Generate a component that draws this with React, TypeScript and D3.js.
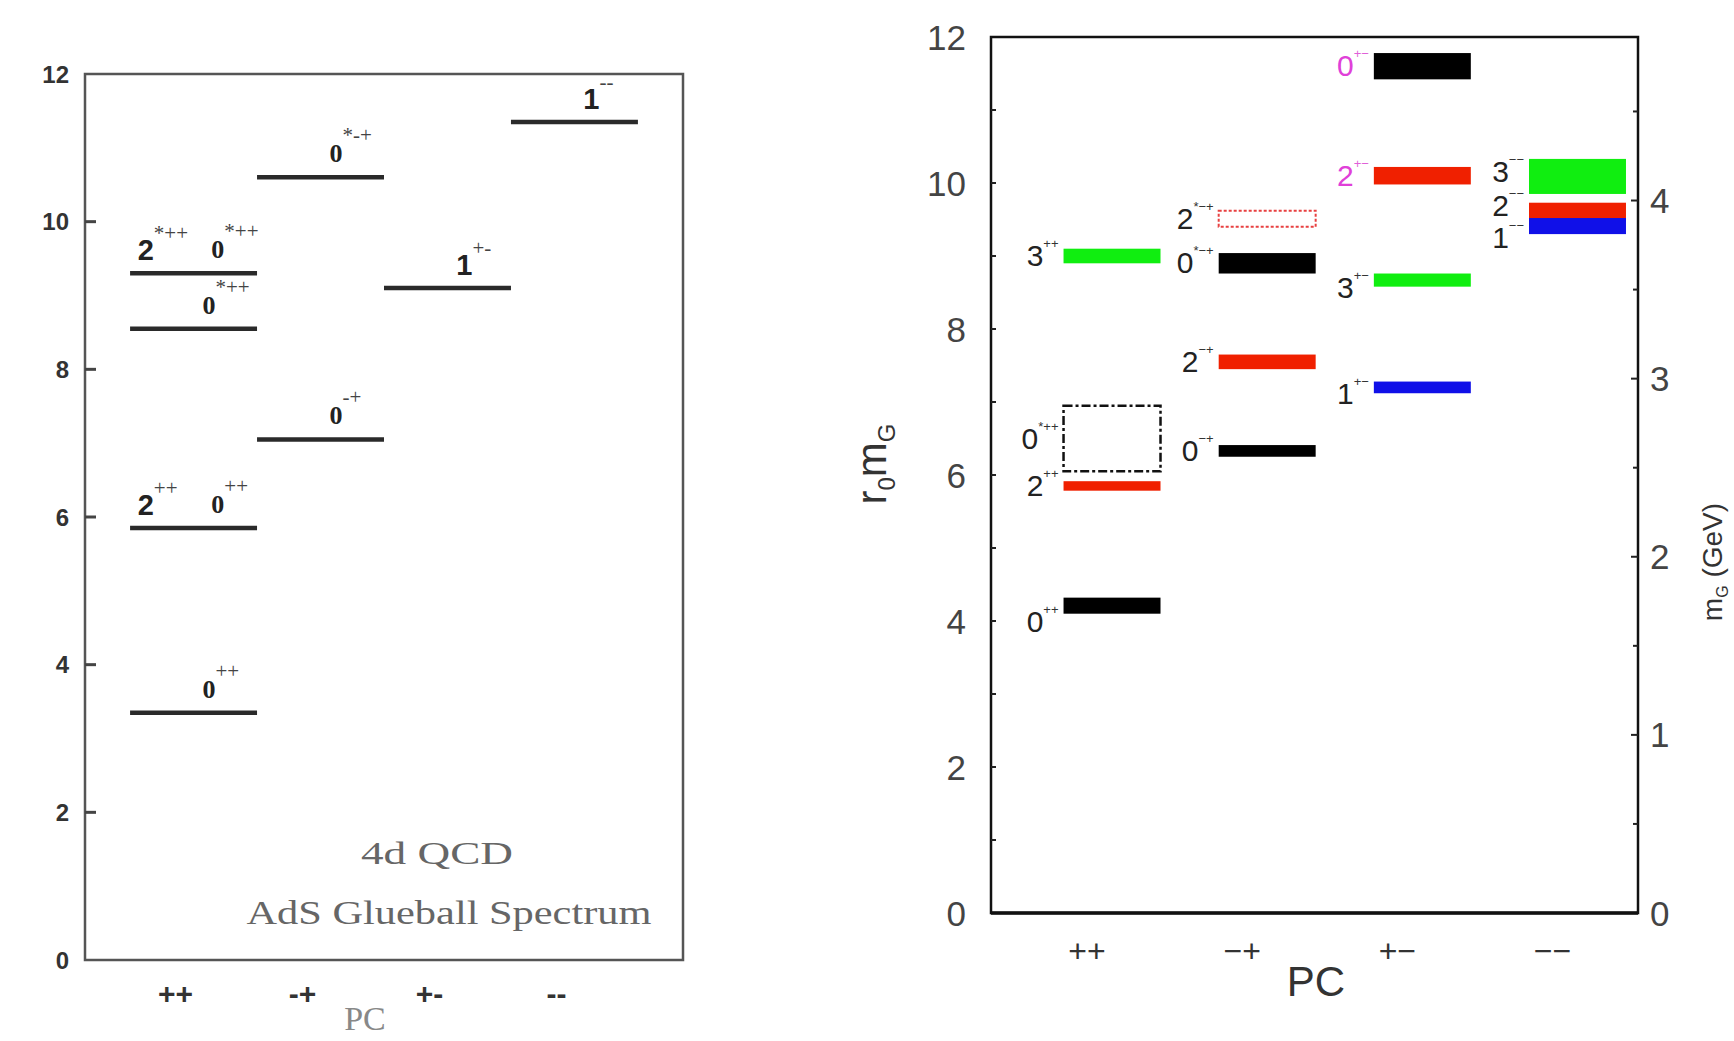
import React from "react";
import * as d3 from "d3";

// PC channels, shared by both panels
const pcCategories = ["++", "-+", "+-", "--"];
const leftPcLabels = ["++", "-+", "+-", "--"];
const rightPcLabels = ["++", "\u2212+", "+\u2212", "\u2212\u2212"];

// left panel: AdS glueball spectrum (one line per level, labels above it)
const adsLevelPC = ["++", "++", "++", "++", "-+", "-+", "+-", "--"];
const adsLevelMass = [3.35, 5.85, 8.55, 9.3, 7.05, 10.6, 9.1, 11.35];
const adsLevelStates = [
  ["0++"],
  ["2++", "0++"],
  ["0*++"],
  ["2*++", "0*++"],
  ["0-+"],
  ["0*-+"],
  ["1+-"],
  ["1--"],
];
const leftYTicks = [0, 2, 4, 6, 8, 10, 12];

// right panel: lattice glueball spectrum, r0 mG with error
const latticeState = ["0++", "2++", "0*++", "3++", "0-+", "2-+", "0*-+", "2*-+", "1+-", "3+-", "2+-", "0+-", "3--", "2--", "1--"];
const latticeMass = [4.21, 5.85, 6.5, 9.0, 6.33, 7.55, 8.9, 9.51, 7.2, 8.67, 10.1, 11.6, 10.09, 9.6, 9.41];
const latticeErr = [0.11, 0.065, 0.45, 0.1, 0.08, 0.1, 0.14, 0.11, 0.08, 0.09, 0.12, 0.18, 0.24, 0.13, 0.11];
const latticeTentative = ["0*++", "2*-+"];
const exoticStates = ["0+-", "2+-"];
const rightYTicks = [0, 2, 4, 6, 8, 10, 12];
const gevTicks = [0, 1, 2, 3, 4];
const r0mPerGeV = 2.44;

const W = 1734;
const H = 1041;

const jColor: Record<string, string> = { "0": "#000000", "1": "#1010e8", "2": "#f02000", "3": "#10ee10" };

// little vertical nudges of some right-panel labels (px)
const labelNudge: Record<string, number> = { "0++": 16, "3+-": 8, "1+-": 7, "3--": -4, "2--": -6, "1--": 12 };

const split = (s: string) => ({ j: s[0], sup: s.slice(1), pc: s.slice(-2) });
const minus = (s: string) => s.replace(/-/g, "\u2212");

const LeftPanel = () => {
  const left = 85, right = 683, top = 74, bottom = 960;
  const y = d3.scaleLinear().domain([0, 12]).range([bottom, top]);
  const x = d3.scaleBand().domain(pcCategories).range([left, right]).paddingInner(0).paddingOuter(0.355);
  const bw = x.bandwidth();
  const serif = "'Liberation Serif', 'Times New Roman', serif";
  const sans = "'Liberation Sans', Arial, sans-serif";

  return (
    <g>
      <rect x={left} y={top} width={right - left} height={bottom - top} fill="none" stroke="#555" strokeWidth={2.5} />
      {leftYTicks.map((t) => (
        <g key={t}>
          {t > 0 && t < 12 && <line x1={left} x2={left + 11} y1={y(t)} y2={y(t)} stroke="#444" strokeWidth={3} />}
          <text x={69} y={y(t)} dy="0.36em" textAnchor="end" fontFamily={sans} fontWeight="bold" fontSize={24} fill="#333">
            {t}
          </text>
        </g>
      ))}
      {adsLevelMass.map((m, i) => {
        const x0 = x(adsLevelPC[i])!;
        const states = adsLevelStates[i];
        const pos = states.length === 2 ? [0.06, 0.64] : [0.57];
        return (
          <g key={i}>
            <line x1={x0} x2={x0 + bw} y1={y(m)} y2={y(m)} stroke="#2a2a2a" strokeWidth={4.5} />
            {states.map((s, k) => {
              const { j, sup } = split(s);
              const isZero = j === "0";
              return (
                <text
                  key={k}
                  x={x0 + pos[k] * bw}
                  y={y(m) - (isZero ? 15 : 13)}
                  fontFamily={isZero ? serif : sans}
                  fontWeight="bold"
                  fontSize={isZero ? 26 : 29}
                  fill="#222"
                >
                  {j}
                  <tspan dy={-20} fontFamily={serif} fontWeight="normal" fontSize={21} fill="#444">
                    {sup}
                  </tspan>
                </text>
              );
            })}
          </g>
        );
      })}
      {pcCategories.map((c, i) => (
        <text key={c} x={x(c)! + bw / 2 - 18} y={1004} textAnchor="middle" fontFamily={sans} fontWeight="bold" fontSize={30} fill="#333">
          {leftPcLabels[i]}
        </text>
      ))}
      <text x={365} y={1030} textAnchor="middle" fontFamily={serif} fontSize={34} fill="#888">
        PC
      </text>
      <text x={437} y={864} textAnchor="middle" fontFamily={serif} fontSize={32} fill="#666" textLength={152} lengthAdjust="spacingAndGlyphs">
        4d  QCD
      </text>
      <text x={449} y={924} textAnchor="middle" fontFamily={serif} fontSize={33} fill="#666" textLength={405} lengthAdjust="spacingAndGlyphs">
        AdS Glueball Spectrum
      </text>
    </g>
  );
};

const RightPanel = () => {
  const left = 991, right = 1638, top = 37, bottom = 913;
  const y = d3.scaleLinear().domain([0, 12]).range([bottom, top]);
  const yGeV = d3.scaleLinear().domain([0, 12 / r0mPerGeV]).range([bottom, top]);
  // column centres sit at i + 0.78 on a linear PC axis
  const x = d3.scaleLinear().domain([0, 4.17]).range([left, right]);
  const colCenter = (pc: string) => x(pcCategories.indexOf(pc) + 0.78);
  const barW = x(0.625) - x(0);
  const sans = "'Liberation Sans', Arial, sans-serif";
  const narrow = "'Liberation Sans Narrow', 'Liberation Sans', Arial, sans-serif";

  return (
    <g>
      <rect x={left} y={top} width={right - left} height={bottom - top} fill="none" stroke="#111" strokeWidth={2.5} />
      <line x1={left} x2={right} y1={bottom} y2={bottom} stroke="#111" strokeWidth={3.5} />
      {d3.range(1, 12).map((t) => (
        <line key={"l" + t} x1={left} x2={left + 5} y1={y(t)} y2={y(t)} stroke="#222" strokeWidth={2} />
      ))}
      {d3.range(0.5, 12 / r0mPerGeV, 0.5).map((t) => (
        <line key={"r" + t} x1={right} x2={right - (t % 1 === 0 ? 7 : 5)} y1={yGeV(t)} y2={yGeV(t)} stroke="#222" strokeWidth={2} />
      ))}
      {rightYTicks.map((t) => (
        <text key={t} x={966} y={y(t)} dy="0.36em" textAnchor="end" fontFamily={sans} fontSize={35} fill="#444">
          {t}
        </text>
      ))}
      {gevTicks.map((t) => (
        <text key={t} x={1650} y={yGeV(t)} dy="0.36em" fontFamily={sans} fontSize={35} fill="#444">
          {t}
        </text>
      ))}
      {latticeMass.map((m, i) => {
        const s = latticeState[i];
        const { j, pc } = split(s);
        const cx = colCenter(pc);
        const y1 = y(m + latticeErr[i]);
        const y2 = y(m - latticeErr[i]);
        const col = jColor[j];
        if (latticeTentative.includes(s)) {
          return (
            <rect
              key={s}
              x={cx - barW / 2}
              y={y1}
              width={barW}
              height={y2 - y1}
              fill="none"
              stroke={j === "0" ? "#111" : "#e84040"}
              strokeWidth={j === "0" ? 2.5 : 2}
              strokeDasharray={j === "0" ? "9 3 3 3" : "3 2"}
            />
          );
        }
        return <rect key={s} x={cx - barW / 2} y={y1} width={barW} height={y2 - y1} fill={col} />;
      })}
      {latticeMass.map((m, i) => {
        const s = latticeState[i];
        const { j, sup, pc } = split(s);
        const cx = colCenter(pc);
        const exotic = exoticStates.includes(s);
        const fill = exotic ? "#e040d8" : "#222";
        return (
          <text
            key={"t" + s}
            x={cx - barW / 2 - 5}
            y={y(m) + 10 + (labelNudge[s] || 0)}
            textAnchor="end"
            fontFamily={narrow}
            fontSize={30}
            fill={fill}
          >
            {j}
            <tspan dy={-18} fontSize={13} fill={exotic ? "#e060d8" : "#333"}>
              {minus(sup)}
            </tspan>
          </text>
        );
      })}
      {pcCategories.map((c, i) => (
        <text key={c} x={colCenter(c) - 25} y={962} textAnchor="middle" fontFamily={sans} fontSize={32} fill="#333">
          {rightPcLabels[i]}
        </text>
      ))}
      <text x={1316} y={996} textAnchor="middle" fontFamily={sans} fontSize={42} fill="#333">
        PC
      </text>
      <text transform="translate(886,464) rotate(-90)" textAnchor="middle" fontFamily={sans} fontSize={42} fill="#333">
        r<tspan dy={9} fontSize={24}>0</tspan>
        <tspan dy={-9}>m</tspan>
        <tspan dy={9} fontSize={24}>G</tspan>
      </text>
      <text transform="translate(1722,562) rotate(-90)" textAnchor="middle" fontFamily={sans} fontSize={28} fill="#333">
        m<tspan dy={6} fontSize={16}>G</tspan>
        <tspan dy={-6}> (GeV)</tspan>
      </text>
    </g>
  );
};

const App = () => {
  return (
    <svg width={W} height={H} style={{ position: "absolute", left: 0, top: 0, background: "#fff" }}>
      <rect width={W} height={H} fill="#fff" />
      <LeftPanel />
      <RightPanel />
    </svg>
  );
};

export default App;
